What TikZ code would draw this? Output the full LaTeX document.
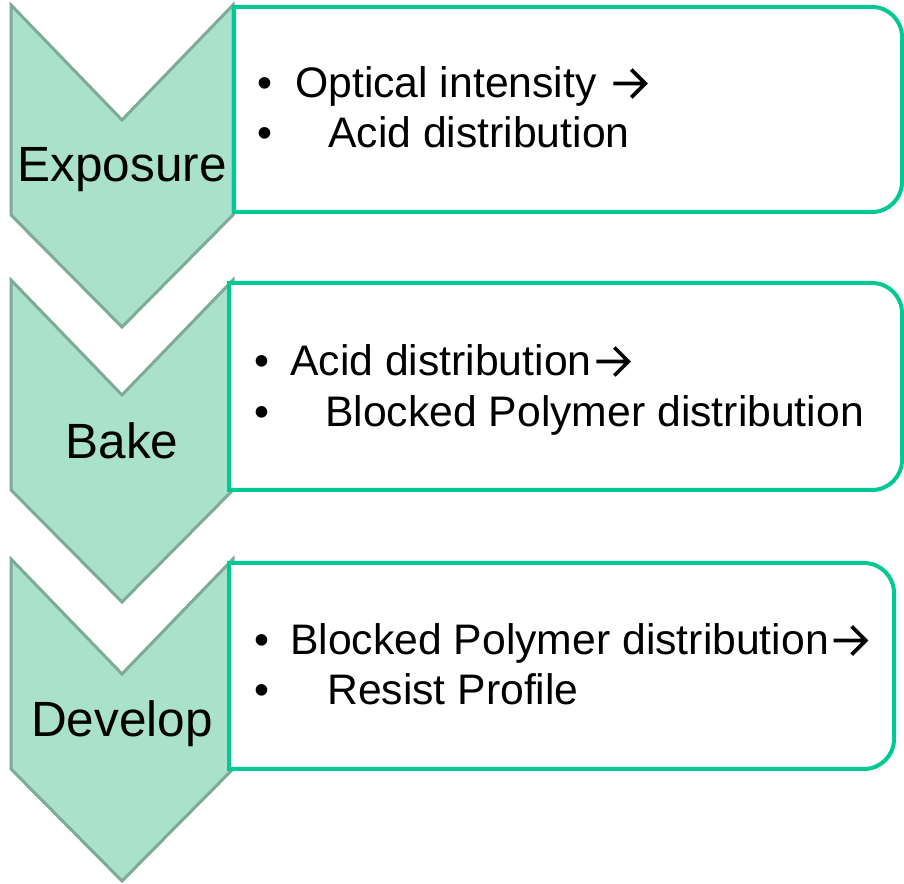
\documentclass[tikz,border=0pt]{standalone}
\usepackage{fontspec}
\setmainfont{Liberation Sans}
\newcommand{\rarr}{\kern3pt\tikz[baseline=0pt,x=1pt,y=1pt]{\draw[line width=3.6pt, line cap=butt, line join=miter] (0,14.5) -- (32,14.5) (18,0.5) -- (32,14.5) -- (18,28.5);}}
\definecolor{chevfill}{HTML}{A9E1CA}
\definecolor{chevline}{HTML}{7EAA98}
\definecolor{boxline}{HTML}{00C994}
\tikzset{
  chev/.style={fill=chevfill, draw=chevline, line width=3pt, line join=miter},
  infobox/.style={fill=white, draw=boxline, line width=4pt},
  steplabel/.style={inner sep=0pt, anchor=base, font=\fontsize{49.5}{58}\selectfont},
  itemtext/.style={inner sep=0pt, anchor=base west, font=\fontsize{42.7}{50}\selectfont},
  bulletmark/.style={inner sep=0pt, anchor=base, font=\fontsize{42.7}{50}\selectfont},
}
\begin{document}
\begin{tikzpicture}[x=1pt,y=1pt]
\useasboundingbox (0,0) rectangle (904,883);
% chevrons
\draw[chev] (11,878) -- (122,763) -- (233,878) -- (233,668) -- (122,556) -- (11,668) -- cycle;
\draw[chev] (11,603) -- (122,488) -- (233,603) -- (233,393) -- (122,281) -- (11,393) -- cycle;
\draw[chev] (11,324) -- (122,209) -- (233,324) -- (233,114) -- (122,2) -- (11,114) -- cycle;
% boxes
\draw[infobox] (234,876) -- (872,876) arc[start angle=90,end angle=0,radius=30] -- (902,701) arc[start angle=0,end angle=-90,radius=30] -- (234,671) -- cycle;
\draw[infobox] (229,600) -- (872,600) arc[start angle=90,end angle=0,radius=30] -- (902,423) arc[start angle=0,end angle=-90,radius=30] -- (229,393) -- cycle;
\draw[infobox] (229,320) -- (864,320) arc[start angle=90,end angle=0,radius=30] -- (894,144) arc[start angle=0,end angle=-90,radius=30] -- (229,114) -- cycle;
% step labels
\node[steplabel] (l1) at (122,701) {Exposure};
\node[steplabel] (l2) at (122,424) {Bake};
\node[steplabel] (l3) at (122,146) {Develop};
% box 1
\node[bulletmark] (b1a) at (265,785) {•};
\node[itemtext] (t1a) at (295,785) {Optical intensity \rarr};
\node[bulletmark] (b1b) at (265,735) {•};
\node[itemtext] (t1b) at (328,735) {Acid distribution};
% box 2
\node[bulletmark] (b2a) at (262,507) {•};
\node[itemtext] (t2a) at (290,507) {Acid distribution\rarr};
\node[bulletmark] (b2b) at (262,456) {•};
\node[itemtext] (t2b) at (325,456) {Blocked Polymer distribution};
% box 3
\node[bulletmark] (b3a) at (262,228) {•};
\node[itemtext] (t3a) at (290,228) {Blocked Polymer distribution\rarr};
\node[bulletmark] (b3b) at (262,178) {•};
\node[itemtext] (t3b) at (327,178) {Resist Profile};
\end{tikzpicture}
\end{document}
